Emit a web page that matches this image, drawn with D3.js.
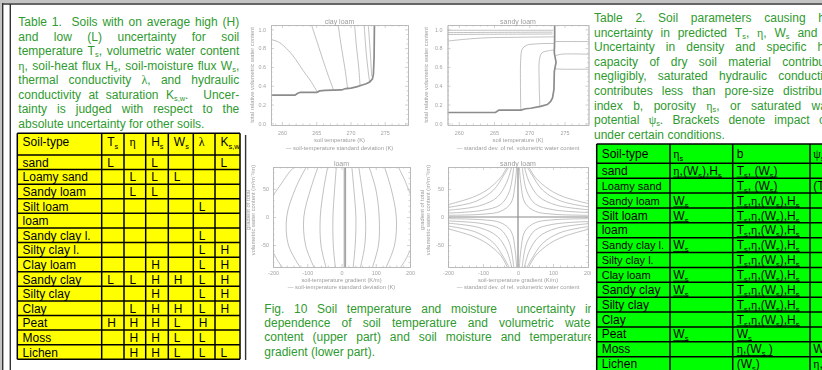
<!DOCTYPE html>
<html>
<head>
<meta charset="utf-8">
<script src="https://cdn.jsdelivr.net/npm/d3@7/dist/d3.min.js"></script>
<style>
  html, body { margin: 0; padding: 0; width: 822px; height: 370px; overflow: hidden; background: #fff; }
  #stage { position: relative; width: 822px; height: 370px; }
  #stage svg { position: absolute; left: 0; top: 0; }
  .clip { position: absolute; top: 0; height: 370px; overflow: hidden; }
  .cap { position: absolute; font-family: "Liberation Sans", Arial, sans-serif; font-size: 12px; color: #2f9a2f; }
  .cap .ln { display: flex; justify-content: space-between; white-space: nowrap; }
  .cap .ln.last { display: block; white-space: pre; }
  .cap .w { flex: none; }
  .cap sub { font-size: 0.62em; vertical-align: -0.3em; line-height: 0; }
  .cap .g { font-family: "Liberation Serif", "DejaVu Serif", serif; }
</style>
</head>
<body>
<div id="stage"><svg id="chart" width="822" height="370"></svg></div>
<script>
// ---------- data: Table 1 ----------
const soils = ['sand', 'Loamy sand', 'Sandy loam', 'Silt loam', 'loam', 'Sandy clay l.', 'Silty clay l.',
  'Clay loam', 'Sandy clay', 'Silty clay', 'Clay', 'Peat', 'Moss', 'Lichen'];
const t1Heads = ['Soil-type', 'T_{s}', 'η', 'H_{s}', 'W_{s}', 'λ', 'K_{s,w}'];
const t1Ts  = ['L', '', '', '', '', '', '', '', 'L', '', '', 'H', '', ''];
const t1Eta = ['', 'L', 'L', '', '', '', '', '', 'L', '', 'L', 'H', 'H', 'H'];
const t1Hs  = ['L', 'L', 'L', '', '', '', '', 'H', 'H', 'H', 'H', 'H', 'H', 'H'];
const t1Ws  = ['', 'L', '', '', '', '', '', '', 'H', '', 'H', 'L', 'L', 'L'];
const t1Lam = ['', '', '', 'L', '', 'L', 'L', 'L', 'L', 'L', 'L', 'H', 'L', 'L'];
const t1Ksw = ['L', '', '', '', '', '', 'H', 'H', 'H', 'H', 'H', '', '', 'L'];

// ---------- data: Table 2 ----------
const t2Heads = ['Soil-type', 'η_{s}', 'b', 'ψ_{s}'];
const t2EtaS = ['η,(W_{s}),H_{s}', '', 'W_{s}', 'W_{s}', '', 'W_{s}', '', 'W_{s}', 'W_{s}', '', '', 'W_{s}', '', ''];
const t2B = ['T_{s}, (W_{s})', 'T_{s}, (W_{s})', 'T_{s},η,(W_{s}),H_{s}', 'T_{s},η,(W_{s}),H_{s}',
  'T_{s},η,(W_{s}),H_{s}', 'T_{s},η,(W_{s}),H_{s}', 'T_{s},η,(W_{s}),H_{s}', 'T_{s},η,(W_{s}),H_{s}',
  'T_{s},η,(W_{s}),H_{s}', 'T_{s},η,(W_{s}),H_{s}', 'T_{s},η,(W_{s}),H_{s}', 'W_{s}', 'η,(W_{s} )', '(W_{s})'];
const t2PsiS = ['', '(T_{s})', '', '', '', '', '', '', '', '', '', '', 'W_{s}', 'η,(W_{s})'];

// ---------- captions ----------
const table1Caption = [
  'Table 1.  Soils with on average high (H)',
  'and low (L) uncertainty for soil',
  'temperature T_{s}, volumetric water content',
  'η, soil-heat flux H_{s}, soil-moisture flux W_{s},',
  'thermal conductivity λ, and hydraulic',
  'conductivity at saturation K_{s,w}.  Uncer-',
  'tainty is judged with respect to the',
  'absolute uncertainty for other soils.'
];
const figCaption = [
  'Fig. 10 Soil temperature and moisture  uncertainty in',
  'dependence of soil temperature and volumetric water',
  'content (upper part) and soil moisture and temperature',
  'gradient (lower part).'
];
const table2Caption = [
  'Table 2. Soil parameters causing high',
  'uncertainty in predicted T_{s}, η, W_{s} and H_{s}.',
  'Uncertainty in density and specific heat',
  'capacity of dry soil material contributes',
  'negligibly, saturated hydraulic conductivity',
  'contributes less than pore-size distribution',
  'index b, porosity η_{s}, or saturated water',
  'potential ψ_{s}. Brackets denote impact only',
  'under certain conditions.'
];

// ---------- data: Fig. 10 curves (soil temperature K / water content, gradients) ----------
const clayLoamBase = [[258.4, 0.30], [261.9, 0.30], [262.3, 0.32], [262.7, 0.33], [265.1, 0.33], [265.5, 0.345],
  [266.3, 0.35], [268.7, 0.355], [269.3, 0.37], [270.1, 0.375], [271.0, 0.39], [271.6, 0.405], [272.3, 0.42],
  [272.8, 0.44], [273.2, 0.47], [273.35, 0.52], [273.45, 0.7], [273.5, 1.05]];
const clayLoamLines = [
  [[258.4, 0.89], [259.5, 0.865], [261.0, 0.77], [262.0, 0.68], [263.1, 0.56], [264.2, 0.45], [265.1, 0.34]],
  [[264.3, 1.05], [265.2, 0.85], [266.0, 0.67], [266.8, 0.50], [267.5, 0.36]],
  [[268.2, 1.05], [268.7, 0.80], [269.2, 0.58], [269.6, 0.36]],
  [[270.6, 1.05], [270.9, 0.80], [271.2, 0.60], [271.4, 0.40]],
  [[272.0, 1.05], [272.3, 0.75], [272.6, 0.55], [272.8, 0.44]],
  [[272.6, 1.05], [272.9, 0.75], [273.1, 0.50]]
];
const sandyLoamBase = [[258.4, 0.115], [265.2, 0.115], [265.7, 0.14], [268.8, 0.14], [269.5, 0.155], [270.2, 0.16],
  [271.6, 0.18], [272.55, 0.20], [273.0, 0.23], [273.3, 0.27], [273.5, 0.36], [273.55, 0.55], [273.8, 0.65],
  [273.55, 0.75], [273.6, 0.9], [273.6, 1.05]];
const sandyLoamLines = [
  [[268.8, 0.14], [268.75, 0.40], [268.8, 0.70], [269.0, 0.79], [269.6, 0.83], [271.0, 0.845], [273.5, 0.85]],
  [[271.5, 0.18], [271.4, 0.45], [271.45, 0.68], [271.8, 0.75], [272.6, 0.77], [273.55, 0.78]],
  [[258.4, 0.875], [261.0, 0.895], [264.0, 0.91], [268.0, 0.915], [273.5, 0.92]],
  [[258.4, 0.945], [266.0, 0.948], [273.3, 0.95]],
  [[258.4, 0.965], [266.0, 0.968], [273.3, 0.97]],
  [[258.4, 0.99], [266.0, 0.99], [273.4, 0.99]],
  [[273.7, 0.87], [276.0, 0.87], [278.5, 0.87]],
  [[273.75, 0.72], [274.5, 0.735], [278.5, 0.735]],
  [[273.7, 0.58], [274.5, 0.576], [278.5, 0.576]]
];
const loamGradLines = [
  [[-200, 38], [-175, 60], [-152, 80], [-136, 90]],
  [[-200, -62], [-186, -78], [-172, -90]],
  [[-102, 90], [-135, 50], [-160, 0], [-155, -50], [-120, -90]],
  [[-68, 90], [-90, 50], [-110, 0], [-105, -50], [-80, -90]],
  [[-40, 90], [-52, 50], [-62, 0], [-60, -50], [-45, -90]],
  [[-15, 90], [-20, 50], [-25, 0], [-24, -50], [-18, -90]],
  [[30, 90], [36, 50], [42, 0], [40, -50], [34, -90]],
  [[50, 90], [60, 50], [70, 0], [68, -50], [55, -90]],
  [[80, 90], [100, 50], [110, 0], [108, -50], [90, -90]],
  [[125, 90], [145, 50], [160, 0], [155, -50], [130, -90]],
  [[165, 90], [185, 65], [200, 42]],
  [[200, -60], [186, -77], [172, -90]]
];
const loamGradCentre = [[[8, 90], [8, -90]], [[12, 90], [12, -90]]];
const sandyGradLines = [
  [[-200, 3], [-100, 5], [-50, 10], [-20, 25], [-8, 60], [-4, 90]],
  [[-200, 7], [-100, 12], [-50, 22], [-25, 45], [-12, 90]],
  [[-200, 12], [-110, 20], [-60, 35], [-32, 62], [-18, 90]],
  [[-200, 17], [-120, 28], [-70, 48], [-40, 75], [-25, 90]],
  [[-200, 22], [-130, 35], [-89, 48], [-50, 70], [-30, 90]],
  [[200, 3], [100, 5], [50, 10], [20, 25], [8, 60], [4, 90]],
  [[200, 8], [100, 13], [50, 23], [25, 46], [12, 90]],
  [[200, 13], [110, 21], [60, 36], [32, 62], [18, 90]],
  [[200, 18], [120, 29], [70, 48], [40, 75], [25, 90]],
  [[200, 24], [130, 36], [89, 49], [50, 70], [30, 90]],
  [[-200, -3], [-100, -5], [-50, -10], [-20, -25], [-8, -60], [-4, -90]],
  [[-200, -7], [-100, -12], [-50, -22], [-25, -45], [-12, -90]],
  [[-200, -11], [-110, -19], [-60, -34], [-32, -60], [-18, -90]],
  [[-200, -16], [-120, -27], [-70, -46], [-40, -73], [-25, -90]],
  [[-200, -21], [-130, -34], [-89, -47], [-50, -68], [-30, -90]],
  [[200, -3], [100, -5], [50, -10], [20, -25], [8, -60], [4, -90]],
  [[200, -8], [100, -13], [50, -23], [25, -46], [12, -90]],
  [[200, -12], [110, -20], [60, -35], [32, -61], [18, -90]],
  [[200, -17], [120, -28], [70, -47], [40, -74], [25, -90]],
  [[200, -22], [130, -35], [89, -48], [50, -69], [30, -90]]
];
const sandyGradAxes = [[[-200, 0], [200, 0]], [[0, 90], [0, -90]]];

const tempTicks = [260, 265, 270, 275];
const fracTicks = [0, 0.2, 0.4, 0.6, 0.8, 1.0];
const gradXTicks = [-200, -100, 0, 100, 200];
const gradYTicks = [-50, 0, 50];

// ---------- drawing ----------
const SANS = '"Liberation Sans", Arial, sans-serif';
const SERIF = '"Liberation Serif", "DejaVu Serif", serif';
const GREEK = /([ηλψ])/;
const svg = d3.select('#chart');
const defs = svg.append('defs');
defs.append('filter').attr('id', 'soft').attr('x', '-5%').attr('y', '-5%').attr('width', '110%').attr('height', '110%')
  .append('feGaussianBlur').attr('stdDeviation', 0.35);
defs.append('clipPath').attr('id', 'midclip').append('rect')
  .attr('x', 246.5).attr('y', 5).attr('width', 344.5).attr('height', 365);

svg.append('rect').attr('width', 822).attr('height', 370).attr('fill', '#fff');
svg.append('rect').attr('width', 822).attr('height', 3).attr('fill', '#c4c4c4');
svg.append('rect').attr('width', 2).attr('height', 370).attr('fill', '#c4c4c4');
function rule(x1, y1, x2, y2, w) {
  svg.append('line').attr('x1', x1).attr('y1', y1).attr('x2', x2).attr('y2', y2)
    .attr('stroke', '#333').attr('stroke-width', w || 1.4);
}
rule(2, 4, 822, 4);
rule(2.7, 3, 2.7, 370);
rule(10.3, 4, 10.3, 370);
rule(245.6, 135, 245.6, 360);

// rich text in svg: "_{..}" subscripts, greek in serif
function rich(t, s) {
  const fs = +t.attr('font-size');
  let shifted = false;
  s.split(/(_\{[^}]*\})/).filter(Boolean).forEach(part => {
    if (part.startsWith('_{')) {
      t.append('tspan').attr('dy', fs * 0.25).attr('font-size', fs * 0.62).text(part.slice(2, -1));
      shifted = true;
    } else {
      part.split(GREEK).filter(Boolean).forEach(p => {
        const ts = t.append('tspan').text(p);
        if (GREEK.test(p)) ts.attr('font-family', SERIF);
        if (shifted) { ts.attr('dy', -fs * 0.25); shifted = false; }
      });
    }
  });
}

function drawTable(t) {
  const g = svg.append('g').attr('font-family', SANS).attr('fill', '#000');
  const left = t.edges[0], right = t.edges[t.edges.length - 1];
  const rows = d3.scaleBand().domain(t.soils).range([t.bodyTop, t.bottom]);
  g.append('rect').attr('x', left).attr('y', t.top).attr('width', right - left)
    .attr('height', t.bottom - t.top).attr('fill', t.fill);
  const hs = [t.top].concat(t.soils.map(s => rows(s)), [t.bottom]);
  g.selectAll('line.h').data(hs).join('line').attr('class', 'h')
    .attr('x1', left).attr('x2', right).attr('y1', d => d).attr('y2', d => d)
    .attr('stroke', '#000').attr('stroke-width', 1.5);
  g.selectAll('line.v').data(t.edges).join('line').attr('class', 'v')
    .attr('x1', d => d).attr('x2', d => d).attr('y1', t.top).attr('y2', t.bottom)
    .attr('stroke', '#000').attr('stroke-width', 1.5);
  t.heads.forEach((h, c) => {
    const tx = g.append('text').attr('x', t.edges[c] + t.pad[c]).attr('y', t.top + t.headBase)
      .attr('font-size', 12);
    rich(tx, h);
  });
  t.columns.forEach((col, c) => {
    col.forEach((v, r) => {
      if (!v) return;
      const by = rows(t.soils[r]) + t.bodyBase;
      const tx = g.append('text').attr('x', t.edges[c] + t.pad[c]).attr('y', by)
        .attr('font-size', t.small && c === 0 && t.small.includes(v) ? 11 : 12);
      rich(tx, v);
      if (t.underline && t.underline.includes(c)) {
        const b = tx.node().getBBox();
        g.append('line').attr('x1', b.x).attr('x2', b.x + b.width).attr('y1', by + 2.2).attr('y2', by + 2.2)
          .attr('stroke', '#000').attr('stroke-width', 0.8);
      }
    });
  });
}

drawTable({
  soils, heads: t1Heads, columns: [soils, t1Ts, t1Eta, t1Hs, t1Ws, t1Lam, t1Ksw],
  edges: [17.3, 101.7, 124, 145.7, 168.3, 193.3, 215, 240],
  pad: [5.3, 5.5, 5.5, 5.5, 5.5, 5.5, 5.5],
  top: 133.3, bodyTop: 155, bottom: 359.3, headBase: 12.5, bodyBase: 11.8, fill: '#ffff00'
});
drawTable({
  soils, heads: t2Heads, columns: [soils, t2EtaS, t2B, t2PsiS],
  edges: [596.7, 670, 732.7, 810, 900],
  pad: [5, 3.3, 4, 3.3],
  top: 144, bodyTop: 163.3, bottom: 371.5, headBase: 13.8, bodyBase: 11.6, fill: '#00ff00',
  small: ['Loamy sand', 'Sandy loam', 'Sandy clay l.', 'Silty clay l.', 'Clay loam'],
  underline: [1, 2]
});

// ---------- Fig. 10 panels ----------
const mid = svg.append('g').attr('clip-path', 'url(#midclip)');
const fmtFrac = d3.format('.1f');
const fmtInt = d => String(d);

function axisOn(g, axis, tr, showText) {
  const a = g.append('g').attr('transform', tr).call(axis);
  a.attr('font-size', 5.4).attr('font-family', SANS).style('color', '#a3a3a3');
  a.select('.domain').attr('stroke', '#b3b3b3').attr('stroke-width', 0.7);
  a.selectAll('.tick line').attr('stroke', '#b3b3b3').attr('stroke-width', 0.6);
  if (!showText) a.selectAll('text').remove();
  return a;
}

function drawPlot(p) {
  const [x0, y0, x1, y1] = p.frame;
  const x = d3.scaleLinear().domain(p.xDomain).range([x0, x1]);
  const y = d3.scaleLinear().domain(p.yDomain).range([y1, y0]);
  const g = mid.append('g').attr('filter', 'url(#soft)');
  const clipId = 'clip-' + p.id;
  defs.append('clipPath').attr('id', clipId).append('rect')
    .attr('x', x0).attr('y', y0).attr('width', x1 - x0).attr('height', y1 - y0);
  const curves = g.append('g').attr('clip-path', `url(#${clipId})`).attr('fill', 'none');
  const smooth = d3.line().x(d => x(d[0])).y(d => y(d[1])).curve(d3.curveCatmullRom.alpha(0.5));
  const straight = d3.line().x(d => x(d[0])).y(d => y(d[1]));
  curves.selectAll('path.c').data(p.lines).join('path').attr('class', 'c')
    .attr('d', smooth).attr('stroke', '#a6a6a6').attr('stroke-width', 0.7);
  curves.selectAll('path.h').data(p.heavy).join('path').attr('class', 'h')
    .attr('d', straight).attr('stroke', '#8c8c8c').attr('stroke-width', p.heavyWidth);

  const minorX = p.xMinor.filter(v => !p.xTicks.includes(v));
  const minorY = p.yMinor.filter(v => !p.yTicks.includes(v));
  axisOn(g, d3.axisBottom(x).tickValues(p.xTicks).tickSize(-3).tickSizeOuter(0).tickPadding(p.xPad).tickFormat(p.xFmt),
    `translate(0,${y1})`, true);
  axisOn(g, d3.axisBottom(x).tickValues(minorX).tickSize(-1.5).tickSizeOuter(0), `translate(0,${y1})`, false);
  axisOn(g, d3.axisTop(x).tickValues(p.xTicks).tickSize(-3).tickSizeOuter(0), `translate(0,${y0})`, false);
  axisOn(g, d3.axisTop(x).tickValues(minorX).tickSize(-1.5).tickSizeOuter(0), `translate(0,${y0})`, false);
  axisOn(g, d3.axisLeft(y).tickValues(p.yTicks).tickSize(-3).tickSizeOuter(0).tickPadding(p.yPad).tickFormat(p.yFmt),
    `translate(${x0},0)`, true);
  axisOn(g, d3.axisLeft(y).tickValues(minorY).tickSize(-1.5).tickSizeOuter(0), `translate(${x0},0)`, false);
  axisOn(g, d3.axisRight(y).tickValues(p.yTicks).tickSize(-3).tickSizeOuter(0), `translate(${x1},0)`, false);
  axisOn(g, d3.axisRight(y).tickValues(minorY).tickSize(-1.5).tickSizeOuter(0), `translate(${x1},0)`, false);

  const txt = g.append('g').attr('font-family', SANS).attr('fill', '#9c9c9c').attr('text-anchor', 'middle');
  const cx = (x0 + x1) / 2;
  txt.append('text').attr('x', cx).attr('y', p.titleY).attr('font-size', 7).text(p.title);
  p.yLabel.forEach((s, i) => {
    txt.append('text').attr('transform', `translate(${p.yLabX[i]},${p.yLabY}) rotate(-90)`)
      .attr('dy', '0.35em').attr('font-size', 5.8).text(s);
  });
  txt.append('text').attr('x', cx).attr('y', p.xLabY).attr('font-size', 5.8).text(p.xLabel);
  txt.append('text').attr('x', cx).attr('y', p.legY).attr('font-size', 5.8).text('\u2014 ' + p.legend);
}

const tempMinor = d3.range(259, 279, 1);
const fracMinor = d3.range(0, 1.01, 0.05).map(v => +v.toFixed(2));
const gradXMinor = d3.range(-200, 201, 20);
const gradYMinor = d3.range(-80, 81, 10);
const upperCommon = {
  xDomain: [258.4, 278.4], yDomain: [-0.018, 1.046], xTicks: tempTicks, yTicks: fracTicks,
  xMinor: tempMinor, yMinor: fracMinor, xFmt: fmtInt, yFmt: fmtFrac, xPad: 6.3, yPad: 5,
  titleY: 23.5, yLabY: 75, xLabY: 142, legY: 150,
  yLabel: ['total relative volumetric water content'], xLabel: 'soil temperature (K)'
};
const lowerCommon = {
  xDomain: [-200, 200], yDomain: [-89, 89], xTicks: gradXTicks, yTicks: gradYTicks,
  xMinor: gradXMinor, yMinor: gradYMinor, xFmt: fmtInt, yFmt: fmtInt, xPad: 4.2, yPad: 4,
  titleY: 165.5, yLabY: 210, xLabY: 281.5, legY: 289,
  yLabel: ['gradient of total', 'volumetric water content (m\u00b3m\u207b\u00b3/m)'],
  xLabel: 'soil-temperature gradient (K/m)', legend: 'soil-temperature standard deviation (K)'
};
drawPlot(Object.assign({}, upperCommon, {
  id: 'p1', title: 'clay loam', frame: [271, 25, 408, 125], yLabX: [252],
  lines: clayLoamLines, heavy: [clayLoamBase], heavyWidth: 1.7,
  legend: 'soil-temperature standard deviation (K)'
}));
drawPlot(Object.assign({}, upperCommon, {
  id: 'p2', title: 'sandy loam', frame: [447.5, 25, 588.5, 125], yLabX: [426],
  lines: sandyLoamLines, heavy: [sandyLoamBase], heavyWidth: 1.7,
  legend: 'standard dev. of rel. volumetric water content'
}));
drawPlot(Object.assign({}, lowerCommon, {
  id: 'p3', title: 'loam', frame: [273, 167, 410, 267], yLabX: [247.5, 253],
  lines: loamGradLines, heavy: loamGradCentre, heavyWidth: 0.9
}));
drawPlot(Object.assign({}, lowerCommon, {
  id: 'p4', title: 'sandy loam', frame: [448, 167, 588, 267], yLabX: [422, 427.5], titleY: 166,
  lines: sandyGradLines, heavy: sandyGradAxes, heavyWidth: 1.2,
  legend: 'standard dev. of rel. volumetric water content'
}));

// ---------- captions (justified, html text) ----------
const stage = d3.select('#stage');
function markup(word) {
  return word.replace(/_\{([^}]*)\}/g, '<sub>$1</sub>').replace(/([ηλψ])/g, '<span class="g">$1</span>');
}
function caption(parent, lines, box) {
  const div = parent.append('div').attr('class', 'cap')
    .style('left', box.left + 'px').style('top', box.top + 'px').style('width', box.width + 'px');
  div.selectAll('div.ln').data(lines).join('div')
    .attr('class', (d, i) => i === lines.length - 1 ? 'ln last' : 'ln')
    .style('height', box.lh + 'px').style('line-height', box.lh + 'px')
    .each(function (d, i) {
      const ln = d3.select(this);
      if (i === lines.length - 1) ln.html(markup(d));
      else ln.selectAll('span.w').data(d.split(' ')).join('span').attr('class', 'w').html(markup);
    });
}
caption(stage, table1Caption, { left: 18.3, top: 15.4, width: 221, lh: 14.5 });
const midClip = stage.append('div').attr('class', 'clip').style('left', '246.5px').style('width', '344.5px');
caption(midClip, figCaption, { left: 17.8, top: 302.2, width: 330, lh: 14.15 });
const rightClip = stage.append('div').attr('class', 'clip').style('left', '592px').style('width', '230px');
caption(rightClip, table2Caption, { left: 2, top: 11, width: 247, lh: 14.6 });
</script>
</body>
</html>
